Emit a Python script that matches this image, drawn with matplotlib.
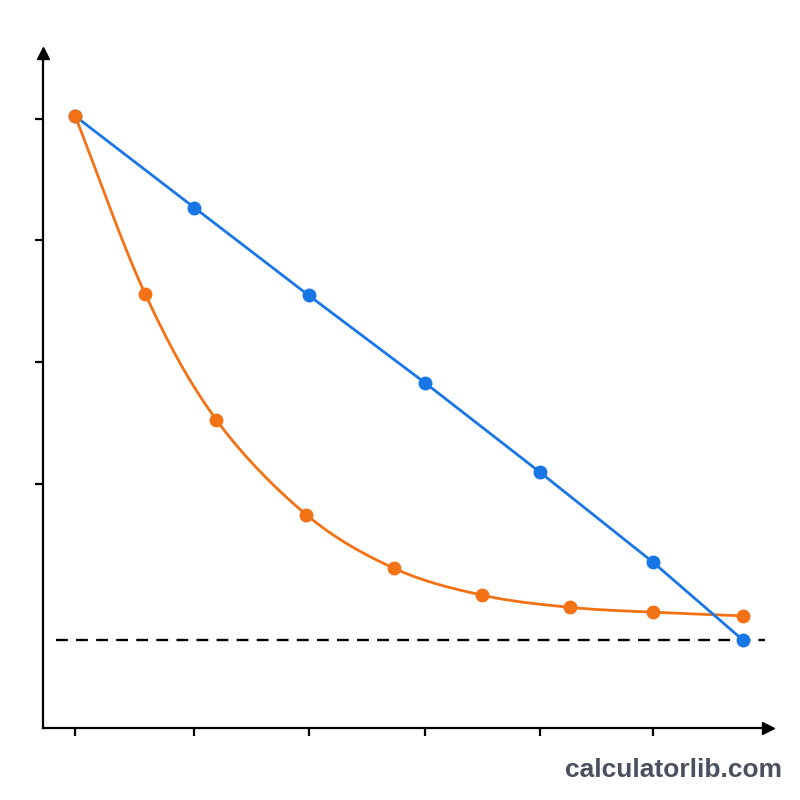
import numpy as np
import matplotlib
matplotlib.use("Agg")
import matplotlib.pyplot as plt

# ── data ──────────────────────────────────────────────────────────────────────
linear_x = [0.0, 1.03, 2.02, 3.03, 4.02, 5.0, 5.78]
linear_y = [5.02, 4.27, 3.55, 2.83, 2.10, 1.36, 0.72]

decay_x = [0.0, 0.606, 1.22, 2.0, 2.76, 3.52, 4.28, 5.0, 5.78]
decay_y = [5.02, 3.56, 2.53, 1.75, 1.31, 1.09, 0.99, 0.95, 0.92]

floor_y = 0.72
x_ticks = [0, 1.03, 2.02, 3.03, 4.02, 5.0]
y_ticks = [2, 3, 4, 5]

BLUE = "#1976e6"
ORANGE = "#f37216"


def smooth(xs, ys, n=30):
    # Catmull-Rom through the points, only for drawing the curve
    p = np.column_stack([xs, ys])
    p = np.vstack([2 * p[0] - p[1], p, 2 * p[-1] - p[-2]])
    out = []
    for i in range(1, len(p) - 2):
        p0, p1, p2, p3 = p[i - 1], p[i], p[i + 1], p[i + 2]
        t = np.linspace(0, 1, n)[:, None]
        seg = 0.5 * ((2 * p1) + (-p0 + p2) * t + (2 * p0 - 5 * p1 + 4 * p2 - p3) * t**2
                     + (-p0 + 3 * p1 - 3 * p2 + p3) * t**3)
        out.append(seg)
    out = np.vstack(out)
    return out[:, 0], out[:, 1]


fig = plt.figure(figsize=(8, 8), dpi=100)
ax = fig.add_axes([0.054, 0.09, 0.906, 0.844])
ax.set_xlim(-0.277, 5.995)
ax.set_ylim(0, 5.54)

for s in ["top", "right"]:
    ax.spines[s].set_visible(False)
for s in ["left", "bottom"]:
    ax.spines[s].set_linewidth(1.6)
    ax.spines[s].set_color("black")

ax.set_xticks(x_ticks)
ax.set_yticks(y_ticks)
ax.set_xticklabels([])
ax.set_yticklabels([])
ax.tick_params(length=6, width=1.6, color="black", direction="out")

# arrow heads at the axis ends
ax.plot(1, 0, ">", color="black", markersize=9, transform=ax.transAxes, clip_on=False)
ax.plot(0, 1, "^", color="black", markersize=9, transform=ax.transAxes, clip_on=False)

# dashed floor
ax.hlines(floor_y, -0.17, 5.97, colors="black", linestyles=(0, (5, 3.5)), linewidth=1.7)

# curves
sx, sy = smooth(decay_x, decay_y)
ax.plot(sx, sy, color=ORANGE, lw=2, zorder=3)
ax.plot(linear_x, linear_y, color=BLUE, lw=2, zorder=4)
ax.plot(linear_x, linear_y, "o", color=BLUE, markersize=9, zorder=5)
ax.plot(decay_x[:-1], decay_y[:-1], "o", color=ORANGE, markersize=9, zorder=6)
ax.plot(decay_x[-1:], decay_y[-1:], "o", color=ORANGE, markersize=9, zorder=4)

fig.text(0.978, 0.022, "calculatorlib.com", ha="right", va="bottom",
         fontsize=19, fontweight="bold", color="#4a505e", family="Liberation Sans")

fig.savefig("out.png", dpi=100, facecolor="white")
